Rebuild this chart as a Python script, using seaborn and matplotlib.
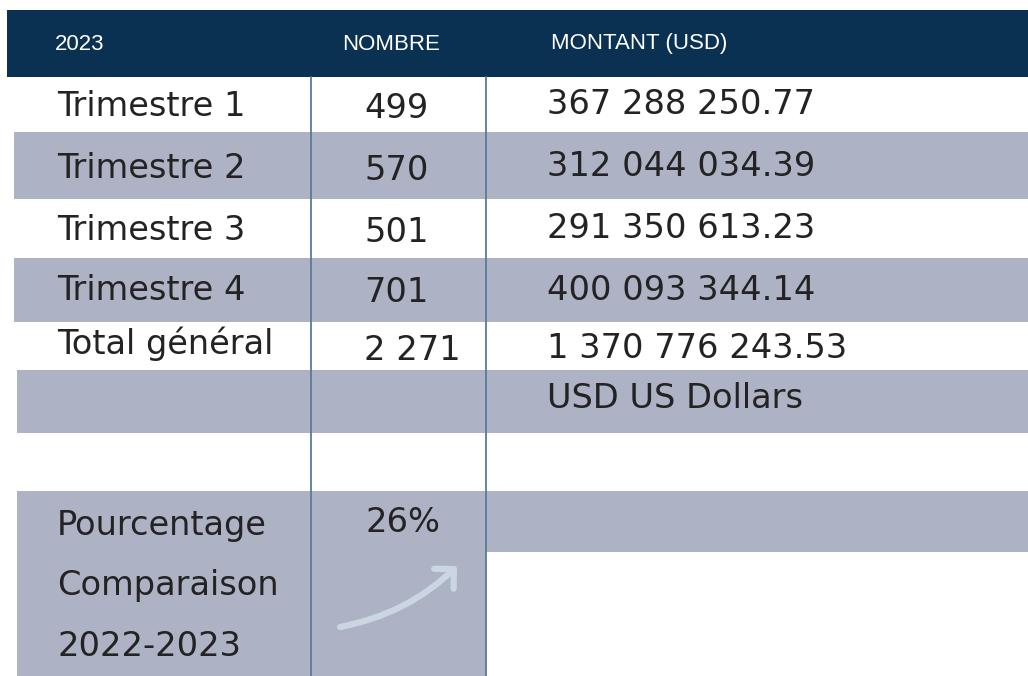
import matplotlib.pyplot as plt
import seaborn as sns
from matplotlib.patches import Rectangle, FancyArrowPatch

# ---- donnees du tableau ----
headers = ["2023", "NOMBRE", "MONTANT (USD)"]
row_labels = ["Trimestre 1", "Trimestre 2", "Trimestre 3", "Trimestre 4", "Total général"]
counts = ["499", "570", "501", "701", "2 271"]
amounts = ["367 288 250.77", "312 044 034.39", "291 350 613.23",
           "400 093 344.14", "1 370 776 243.53"]
currency_note = "USD US Dollars"
pct_label = ["Pourcentage", "Comparaison", "2022-2023"]
pct_value = "26%"

NAVY = "#0b3152"
GREY = "#adb2c4"
LINE = "#5a7b97"
TXT = "#232323"
FS = 24.2

sns.set_theme(style="white")
plt.rcParams["font.family"] = ["DejaVu Sans"]

fig = plt.figure(figsize=(10.28, 6.76), dpi=100)
ax = fig.add_axes([0, 0, 1, 1])
ax.set_xlim(0, 1028)
ax.set_ylim(676, 0)
ax.axis("off")

# header band
ax.add_patch(Rectangle((7, 10), 1021, 67, color=NAVY, lw=0))
for x, h in zip([55, 342, 551], headers):
    ax.text(x, 44, h, color="white", fontsize=16, family=["Liberation Sans"],
            va="center", ha="left")

# grey bands (row 2, row 4, note row, percentage block)
ax.add_patch(Rectangle((14, 132), 1014, 67, color=GREY, lw=0))
ax.add_patch(Rectangle((14, 258), 1014, 64, color=GREY, lw=0))
ax.add_patch(Rectangle((17, 370), 1011, 63, color=GREY, lw=0))
ax.add_patch(Rectangle((17, 491), 469, 185, color=GREY, lw=0))
ax.add_patch(Rectangle((486, 491), 542, 61, color=GREY, lw=0))

# column separators
for x in [311, 486]:
    ax.plot([x, x], [77, 676], color=LINE, lw=1.3)

label_y = [107, 168, 230, 291, 344]
count_y = [109, 171, 232, 292, 351]
amount_y = [105, 167, 228, 290, 349]
for lab, ly, c, cy, a, ay in zip(row_labels, label_y, counts, count_y, amounts, amount_y):
    ax.text(57, ly, lab, fontsize=FS, color=TXT, va="center", ha="left")
    ax.text(364, cy, c, fontsize=FS, color=TXT, va="center", ha="left")
    ax.text(547, ay, a, fontsize=FS, color=TXT, va="center", ha="left")

ax.text(547, 399, currency_note, fontsize=FS, color=TXT, va="center", ha="left")

for y, t in zip([525, 586, 647], pct_label):
    ax.text(57, y, t, fontsize=FS, color=TXT, va="center", ha="left")
ax.text(366, 522, pct_value, fontsize=FS, color=TXT, va="center", ha="left")

# fleche montante
arrow = FancyArrowPatch((340, 627), (457, 566), connectionstyle="arc3,rad=0.15",
                        arrowstyle="->,head_length=10,head_width=10",
                        color="#cbd6e3", lw=4.5, capstyle="round",
                        joinstyle="round", shrinkA=0, shrinkB=0)
ax.add_patch(arrow)

fig.savefig("out.png", dpi=100)
